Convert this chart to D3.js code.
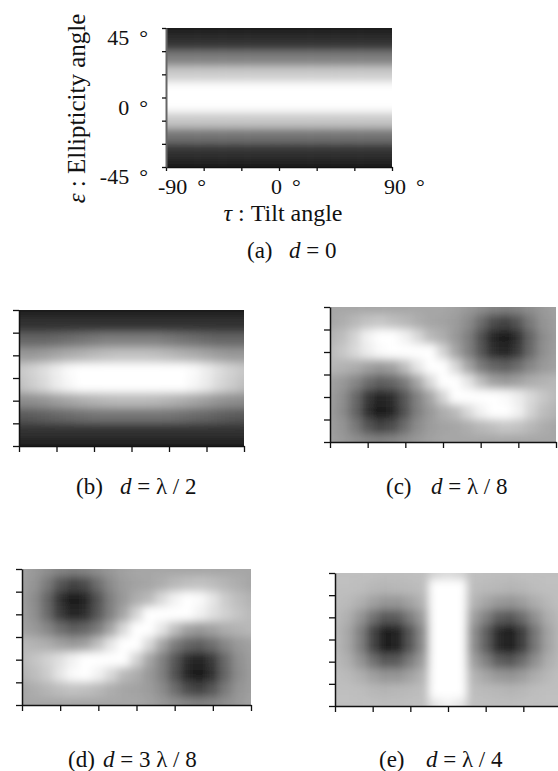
<!DOCTYPE html>
<html>
<head>
<meta charset="utf-8">
<script src="https://cdn.jsdelivr.net/npm/d3@7"></script>
<style>
  html, body { margin: 0; padding: 0; background: #fff; }
  svg { display: block; }
  text { font-family: "Liberation Serif", "Times New Roman", serif; fill: #111; }
</style>
</head>
<body>
<svg id="chart" width="558" height="771"></svg>
<script>
// Sampling nodes of every map, in degrees
const tiltNodes = [-90,-80,-70,-60,-50,-40,-30,-20,-10,0,10,20,30,40,50,60,70,80,90];
const ellipNodes = [45,35,25,15,5,-5,-15,-25,-35,-45];

// Axis ticks and tick labels
const tiltTicks = [-90,-60,-30,0,30,60,90];
const ellipTicks = [45,30,15,0,-15,-30,-45];
const tiltLabels = [-90,0,90];
const ellipLabels = [45,0,-45];

// Panel tags and the retardation d of each map
const panelTags = ["(a)","(b)","(c)","(d)","(e)"];
const retardations = ["0","λ / 2","λ / 8","3 λ / 8","λ / 4"];

// Brightness, 0 = black ... 10 = white; one row per ellipNodes entry, one column per tiltNodes entry
const mapA = [
  [1.2,1.2,1.2,1.2,1.2,1.2,1.2,1.2,1.2,1.2,1.2,1.2,1.2,1.2,1.2,1.2,1.2,1.2,1.2],
  [2,2,2,2,2,2,2,2,2,2,2,2,2,2,2,2,2,2,2],
  [5,5,5,5,5,5,5,5,5,5,5,5,5,5,5,5,5,5,5],
  [8,8,8,8,8,8,8,8,8,8,8,8,8,8,8,8,8,8,8],
  [10,10,10,10,10,10,10,10,10,10,10,10,10,10,10,10,10,10,10],
  [10,10,10,10,10,10,10,10,10,10,10,10,10,10,10,10,10,10,10],
  [7.8,7.8,7.8,7.8,7.8,7.8,7.8,7.8,7.8,7.8,7.8,7.8,7.8,7.8,7.8,7.8,7.8,7.8,7.8],
  [4.5,4.5,4.5,4.5,4.5,4.5,4.5,4.5,4.5,4.5,4.5,4.5,4.5,4.5,4.5,4.5,4.5,4.5,4.5],
  [2,2,2,2,2,2,2,2,2,2,2,2,2,2,2,2,2,2,2],
  [1.2,1.2,1.2,1.2,1.2,1.2,1.2,1.2,1.2,1.2,1.2,1.2,1.2,1.2,1.2,1.2,1.2,1.2,1.2]
];
const mapB = [
  [1.2,1.2,1.2,1.2,1.2,1.2,1.2,1.2,1.2,1.2,1.2,1.2,1.2,1.2,1.2,1.2,1.2,1.2,1.2],
  [2,2,2,2,2,2,2,2,2,2,2,2,2,2,2,2,2,2,2],
  [4,4,4,4.2,4.4,4.6,4.8,5,5,5,5,5,4.8,4.6,4.4,4.2,4,4,4],
  [6,6,6.2,6.5,6.8,7,7.3,7.5,7.6,7.6,7.6,7.5,7.3,7,6.8,6.5,6.2,6,6],
  [7.8,8.2,8.7,9.3,9.8,10,10,10,10,10,10,10,10,10,9.8,9.3,8.7,8.2,7.8],
  [7.5,8,8.5,9.2,9.7,10,10,10,10,10,10,10,10,10,9.7,9.2,8.5,8,7.5],
  [5.5,5.6,5.8,6.2,6.5,6.8,7,7.2,7.3,7.3,7.3,7.2,7,6.8,6.5,6.2,5.8,5.6,5.5],
  [3.5,3.6,3.8,4,4.2,4.4,4.5,4.6,4.6,4.6,4.6,4.6,4.5,4.4,4.2,4,3.8,3.6,3.5],
  [2,2,2,2,2,2,2,2,2,2,2,2,2,2,2,2,2,2,2],
  [1.2,1.2,1.2,1.2,1.2,1.2,1.2,1.2,1.2,1.2,1.2,1.2,1.2,1.2,1.2,1.2,1.2,1.2,1.2]
];
const mapC = [
  [6.5,6.5,6.5,6.5,6.5,6.5,6.5,6.5,6.5,6.5,6.3,6,5.6,5.2,5,5.2,5.6,6,6.3],
  [6.5,6.8,7.2,7.6,7.8,7.5,7.2,6.8,6.5,6.4,6.1,5.5,4.3,3,2.6,3.4,4.8,5.8,6.2],
  [7,7.4,8.3,9.5,10,10,9.5,8.5,7.3,6.8,6,5,3.2,1.5,0.9,2,4,5.5,6.1],
  [7.3,7.8,8.5,9.3,9.8,10,10,10,10,8.3,6.5,5.1,3.5,1.8,1.4,2.3,4.2,5.6,6.2],
  [7.2,7,6.8,6.3,6,6.3,7.5,9,10,10,8.5,6.5,4.9,4,3.7,4.3,5.3,6,6.3],
  [6.3,6,5.3,4.3,3.7,4,4.9,6.5,8.5,10,10,9,7.5,6.3,6,6.3,6.8,7,7.2],
  [6.2,5.6,4.2,2.3,1.4,1.8,3.5,5.1,6.5,8.3,10,10,10,10,9.8,9.3,8.5,7.8,7.3],
  [6.1,5.5,4,2,0.9,1.5,3.2,5,6,6.8,7.3,8.5,9.5,10,10,9.5,8.3,7.4,7],
  [6.2,5.8,4.8,3.4,2.6,3,4.3,5.5,6.1,6.4,6.5,6.8,7.2,7.5,7.8,7.6,7.2,6.8,6.5],
  [6.3,6,5.6,5.2,5,5.2,5.6,6,6.3,6.5,6.5,6.5,6.5,6.5,6.5,6.5,6.5,6.5,6.5]
];
const mapD = [
  [6.3,6,5.6,5.2,5,5.2,5.6,6,6.3,6.5,6.5,6.5,6.5,6.5,6.5,6.5,6.5,6.5,6.5],
  [6.2,5.8,4.8,3.4,2.6,3,4.3,5.5,6.1,6.4,6.5,6.8,7.2,7.5,7.6,7.4,7.1,6.8,6.5],
  [6.1,5.5,4,2,0.9,1.5,3.2,5,6,6.8,7.3,8.5,9.5,10,9.8,9,8,7.4,7],
  [6.2,5.6,4.2,2.3,1.4,1.8,3.5,5.1,6.5,8.3,10,10,10,10,9.5,8.8,8.2,7.7,7.3],
  [6.3,6,5.3,4.3,3.7,4,4.9,6.5,8.5,10,10,9,7.5,6.3,6,6.3,6.8,7,7.2],
  [7.2,7,6.8,6.3,6,6.3,7.5,9,10,10,8.5,6.5,4.9,4,3.7,4.3,5.3,6,6.3],
  [7.3,7.7,8.2,8.8,9.5,10,10,10,10,8.3,6.5,5.1,3.5,1.8,1.4,2.3,4.2,5.6,6.2],
  [7,7.4,8,9,9.8,10,9.5,8.5,7.3,6.8,6,5,3.2,1.5,0.9,2,4,5.5,6.1],
  [6.5,6.8,7.1,7.4,7.6,7.5,7.2,6.8,6.5,6.4,6.1,5.5,4.3,3,2.6,3.4,4.8,5.8,6.2],
  [6.5,6.5,6.5,6.5,6.5,6.5,6.5,6.5,6.5,6.5,6.3,6,5.6,5.2,5,5.2,5.6,6,6.3]
];
const mapE = [
  [7.5,7.5,7.5,7.5,7.4,7.4,7.5,7.5,8.3,8.6,8.3,7.5,7.5,7.4,7.4,7.5,7.5,7.5,7.5],
  [7.5,7.5,7.4,7.2,7.1,7.2,7.3,7.4,10,10,10,7.4,7.3,7.2,7.1,7.2,7.4,7.5,7.5],
  [7.4,7.3,6.9,6.3,5.9,5.9,6.4,7,10,10,10,7.1,6.5,6,5.8,6.2,6.8,7.2,7.5],
  [7.3,6.9,5.9,4.5,3.5,3.6,4.9,6.2,10,10,10,6.3,5.1,3.7,3.4,4.3,5.7,6.8,7.3],
  [7.2,6.6,5.1,2.8,1.1,1.4,3.4,5.5,10,10,10,5.7,3.8,1.7,1.1,2.5,4.7,6.4,7.2],
  [7.2,6.6,5.1,2.8,1.1,1.4,3.4,5.5,10,10,10,5.7,3.8,1.7,1.1,2.5,4.7,6.4,7.2],
  [7.3,6.9,5.9,4.5,3.5,3.6,4.9,6.2,10,10,10,6.3,5.1,3.7,3.4,4.3,5.7,6.8,7.3],
  [7.4,7.3,6.9,6.3,5.9,5.9,6.4,7,10,10,10,7.1,6.5,6,5.8,6.2,6.8,7.2,7.5],
  [7.5,7.5,7.4,7.2,7.1,7.2,7.3,7.4,10,10,10,7.4,7.3,7.2,7.1,7.2,7.4,7.5,7.5],
  [7.5,7.5,7.5,7.5,7.4,7.4,7.5,7.5,9,9.5,9,7.5,7.5,7.4,7.4,7.5,7.5,7.5,7.5]
];
const maps = [mapA, mapB, mapC, mapD, mapE];

// Where each panel sits on the page
const layout = [
  {x0:166, x1:392, y0:28,  y1:167, tick:4, capY:258, tagX:247, exprX:289, axisColor:"#666", axisWidth:2},
  {x0:19,  x1:244, y0:310, y1:446, tick:6, capY:494, tagX:76,  exprX:120, axisColor:"#111", axisWidth:1.5},
  {x0:330, x1:556, y0:307, y1:442, tick:6, capY:494, tagX:386, exprX:431, axisColor:"#111", axisWidth:1.5},
  {x0:22,  x1:251, y0:569, y1:705, tick:6, capY:767, tagX:68,  exprX:103, axisColor:"#111", axisWidth:1.5},
  {x0:335, x1:561, y0:573, y1:706, tick:6, capY:767, tagX:379, exprX:426, axisColor:"#111", axisWidth:1.5}
];

const svg = d3.select("#chart");
const defs = svg.append("defs");
defs.append("filter")
    .attr("id", "soften")
    .attr("x", "-5%").attr("y", "-5%").attr("width", "110%").attr("height", "110%")
  .append("feGaussianBlur")
    .attr("stdDeviation", 4);

const brightness = d3.scaleLinear().domain([0, 10]).range([0, 255]).clamp(true);
const halfStep = 5;   // half the node spacing, degrees
const edgePad = 20;   // border cells reach past the frame so the smoothing keeps full tone

layout.forEach((p, k) => {
  const x = d3.scaleLinear().domain([-90, 90]).range([p.x0, p.x1]);
  const y = d3.scaleLinear().domain([45, -45]).range([p.y0, p.y1]);

  defs.append("clipPath").attr("id", "frame" + k)
    .append("rect")
      .attr("x", p.x0).attr("y", p.y0)
      .attr("width", p.x1 - p.x0).attr("height", p.y1 - p.y0);

  const cells = [];
  maps[k].forEach((row, i) => row.forEach((v, j) => {
    cells.push({ tau: tiltNodes[j], eps: ellipNodes[i], v, i, j });
  }));
  const lastI = ellipNodes.length - 1, lastJ = tiltNodes.length - 1;

  svg.append("g").attr("clip-path", `url(#frame${k})`)
    .append("g").attr("filter", "url(#soften)")
    .selectAll("rect").data(cells).join("rect")
      .attr("x", d => x(d.tau - halfStep) - (d.j === 0 ? edgePad : 0) - 0.3)
      .attr("y", d => y(d.eps + halfStep) - (d.i === 0 ? edgePad : 0) - 0.3)
      .attr("width", d => x(d.tau + halfStep) - x(d.tau - halfStep)
                        + (d.j === 0 ? edgePad : 0) + (d.j === lastJ ? edgePad : 0) + 0.6)
      .attr("height", d => y(d.eps - halfStep) - y(d.eps + halfStep)
                        + (d.i === 0 ? edgePad : 0) + (d.i === lastI ? edgePad : 0) + 0.6)
      .attr("fill", d => { const g = Math.round(brightness(d.v)); return `rgb(${g},${g},${g})`; });

  // Frame axes: ticks only, pointing outwards
  const xAxis = svg.append("g")
    .attr("transform", `translate(0,${p.y1})`)
    .call(d3.axisBottom(x).tickValues(tiltTicks).tickSize(p.tick).tickSizeOuter(0).tickFormat(""));
  const yAxis = svg.append("g")
    .attr("transform", `translate(${p.x0},0)`)
    .call(d3.axisLeft(y).tickValues(ellipTicks).tickSize(p.tick).tickSizeOuter(0).tickFormat(""));
  [xAxis, yAxis].forEach(a => {
    a.select(".domain").attr("stroke", "#111").attr("stroke-width", 1.3);
    a.selectAll(".tick line").attr("stroke", "#111").attr("stroke-width", 1.3);
  });
  yAxis.select(".domain").attr("stroke", p.axisColor).attr("stroke-width", p.axisWidth);

  // Caption: tag and retardation
  const cap = svg.append("text").attr("y", p.capY).attr("font-size", 23);
  cap.append("tspan").attr("x", p.tagX).text(panelTags[k]);
  cap.append("tspan").attr("x", p.exprX).attr("font-style", "italic").text("d");
  cap.append("tspan").text(" = " + retardations[k]);

  // Only the first panel carries tick labels and axis titles
  if (k === 0) {
    ellipLabels.forEach(v => {
      const t = svg.append("text")
        .attr("x", p.x0 - 18).attr("y", y(v) + 17)
        .attr("text-anchor", "end").attr("font-size", 22);
      t.append("tspan").text(v);
      t.append("tspan").attr("dx", 10).text("°");
    });
    tiltLabels.forEach(v => {
      const t = svg.append("text")
        .attr("x", x(v) - 8).attr("y", p.y1 + 27)
        .attr("font-size", 22);
      t.append("tspan").text(v);
      t.append("tspan").attr("dx", 10).text("°");
    });
    const xt = svg.append("text")
      .attr("x", (p.x0 + p.x1) / 2 + 4).attr("y", p.y1 + 54)
      .attr("text-anchor", "middle").attr("font-size", 24);
    xt.append("tspan").attr("font-style", "italic").text("τ");
    xt.append("tspan").text(" : Tilt angle");
    const yt = svg.append("text")
      .attr("transform", `translate(85,${(p.y0 + p.y1) / 2 + 11}) rotate(-90)`)
      .attr("text-anchor", "middle").attr("font-size", 25);
    yt.append("tspan").attr("font-style", "italic").text("ε");
    yt.append("tspan").text(" : Ellipticity angle");
  }
});
</script>
</body>
</html>
